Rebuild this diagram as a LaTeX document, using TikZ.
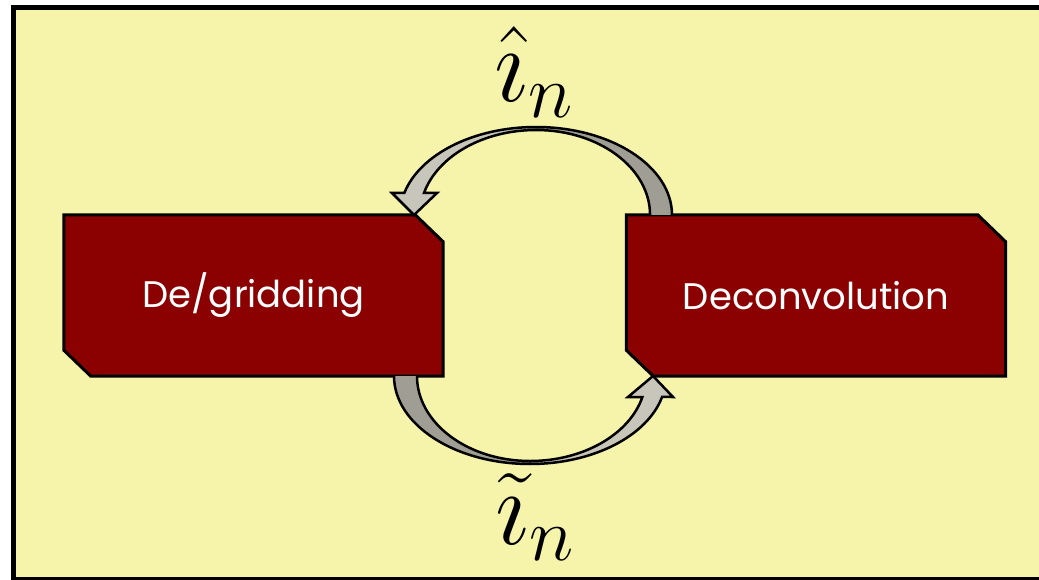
\RequirePackage{fix-cm}
\documentclass[tikz,border=0pt]{standalone}
\usepackage{fontspec}
\newfontfamily\boxfont{Poppins}
\pgfdeclarelayer{bg}\pgfdeclarelayer{mid}\pgfsetlayers{bg,mid,main}
\definecolor{bgyellow}{RGB}{246,243,171}
\definecolor{boxred}{RGB}{139,0,0}
\definecolor{backgray}{RGB}{160,158,148}
\definecolor{frontgray}{RGB}{200,197,186}
\tikzset{
 boxtext/.style={inner sep=0, minimum width=379pt, minimum height=161pt, text=white, font=\boxfont\fontsize{37}{42}\selectfont},
 boxshape/.style={fill=boxred, draw=black, line width=3pt, line join=miter},
 backfill/.style={fill=backgray},
 frontfill/.style={fill=frontgray},
 edge/.style={draw=black, line width=2.5pt, line join=miter},
 lbl/.style={inner sep=0, font=\fontsize{108}{108}\selectfont}
}
\begin{document}
\begin{tikzpicture}[x=1pt,y=-1pt]
\useasboundingbox (0,0) rectangle (1039,580);
\begin{pgfonlayer}{bg}
\clip (0,0) rectangle (1039,580);
\fill[white] (0,0) rectangle (1039,580);
\draw[line width=5pt, fill=bgyellow] (13,7.5) rectangle (1060,579.5);
\end{pgfonlayer}
\node[boxtext] (grid) at (253.5,295.5) {De/gridding};
\node[boxtext] (deconv) at (816,295.5) {Deconvolution};
\begin{pgfonlayer}{mid}
\draw[boxshape] (grid.north west) -- ([xshift=-28pt]grid.north east) -- ([yshift=-27pt]grid.north east) -- (grid.south east) -- ([xshift=27pt]grid.south west) -- ([yshift=26pt]grid.south west) -- cycle;
\draw[boxshape] (deconv.north west) -- ([xshift=-28pt]deconv.north east) -- ([yshift=-27pt]deconv.north east) -- (deconv.south east) -- ([xshift=27pt]deconv.south west) -- ([yshift=26pt]deconv.south west) -- cycle;
\end{pgfonlayer}
\coordinate (topc) at (536,215);
\coordinate (botc) at (530,376);
% fills
\fill[backfill] ([xshift=136pt]topc) arc[start angle=0,end angle=-90,x radius=136,y radius=88] -- ([yshift=85pt]topc) arc[start angle=-90,end angle=0,x radius=114,y radius=85] -- cycle;
\fill[frontfill] ([yshift=88pt]topc) arc[start angle=-90,end angle=-165.52,x radius=136,y radius=88] -- (392,193) -- (414,215) -- (437,193) -- (424,193) arc[start angle=-165,end angle=-90,x radius=116,y radius=85] -- cycle;
\fill[backfill] ([xshift=-136pt]botc) arc[start angle=180,end angle=90,x radius=136,y radius=88] -- ([yshift=-85pt]botc) arc[start angle=90,end angle=180,x radius=113,y radius=85] -- cycle;
\fill[frontfill] ([yshift=-88pt]botc) arc[start angle=90,end angle=13.8,x radius=136,y radius=88] -- (673,397) -- (653,376) -- (628,397) -- (642.4,397) arc[start angle=14.3,end angle=90,x radius=116,y radius=85] -- cycle;
% outline, top arrow
\draw[edge] ([xshift=136pt]topc) arc[start angle=0,end angle=-90,x radius=136,y radius=88] arc[start angle=-90,end angle=-165.52,x radius=136,y radius=88] -- (392,193) -- (414,215) -- (437,193) -- (424,193) arc[start angle=-165,end angle=-90,x radius=116,y radius=85] arc[start angle=-90,end angle=0,x radius=114,y radius=85];
% outline, bottom arrow
\draw[edge] ([xshift=-136pt]botc) arc[start angle=180,end angle=90,x radius=136,y radius=88] arc[start angle=90,end angle=13.8,x radius=136,y radius=88] -- (673,397) -- (653,376) -- (628,397) -- (642.4,397) arc[start angle=14.3,end angle=90,x radius=116,y radius=85] arc[start angle=90,end angle=180,x radius=113,y radius=85];
\node[lbl] (ihat) at (534,72) {$\hat{\imath}_n$};
\node[lbl] (itil) at (535,517) {$\tilde{\imath}_n$};
\end{tikzpicture}
\end{document}
